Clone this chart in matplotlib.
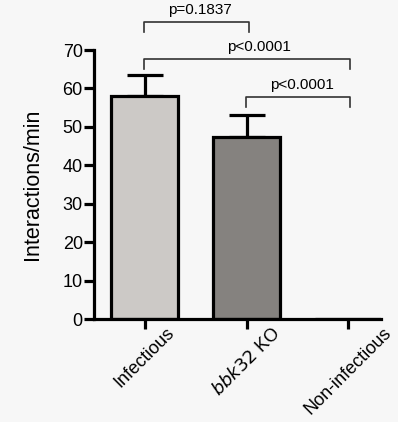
import matplotlib.pyplot as plt
import numpy as np

plt.rcParams['font.family'] = ['Liberation Sans', 'DejaVu Sans']

# data
groups = ["Infectious", "$\\it{bbk32}$ KO", "Non-infectious"]
means = [58.0, 47.4, 0.0]
sem = [5.5, 5.7, 0.0]
colors = ["#ccc9c6", "#85827f", "#ffffff"]

# significance brackets: (left group, right group, bar height, label, text shift)
brackets = [(0, 1, 77.3, "p=0.1837", 0.04),
            (0, 2, 67.7, "p<0.0001", 0.12),
            (1, 2, 57.8, "p<0.0001", 0.04)]

fig = plt.figure(figsize=(3.98, 4.22), dpi=100, facecolor="#f7f7f7")
ax = fig.add_axes([0.236, 0.244, 0.721, 0.6375])
ax.set_facecolor("#f7f7f7")

x = np.arange(len(groups))
ax.bar(x, means, width=0.66, color=colors, edgecolor="black", linewidth=2.3, zorder=2)
ax.errorbar(x[:2], means[:2], yerr=[[0, 0], sem[:2]], fmt="none", ecolor="black",
            elinewidth=2.3, capsize=13, capthick=2.3, zorder=1)

ax.set_xlim(-0.5, 2.32)
ax.set_ylim(0, 70)
ax.set_yticks(range(0, 71, 10))
ax.set_xticks(x)
ax.set_xticklabels(groups, rotation=45, ha="center", va="top", fontsize=13)
ax.set_ylabel("Interactions/min", fontsize=15.5, labelpad=14)
ax.tick_params(axis="both", width=2.3, length=7, labelsize=13)
ax.tick_params(axis="y", pad=1)
ax.tick_params(axis="x", pad=-3)

for s in ["top", "right"]:
    ax.spines[s].set_visible(False)
for s in ["left", "bottom"]:
    ax.spines[s].set_linewidth(2.3)

for i, j, h, lab, dx in brackets:
    xl, xr = i - 0.01, j + 0.02
    ax.plot([xl, xl, xr, xr], [h - 2.6, h, h, h - 2.6], color="#333333", lw=1.2, clip_on=False)
    ax.text((xl + xr) / 2 + dx, h + 1.2, lab,
            ha="center", va="bottom", fontsize=11, clip_on=False)

fig.savefig("out.png", dpi=100, facecolor=fig.get_facecolor())
